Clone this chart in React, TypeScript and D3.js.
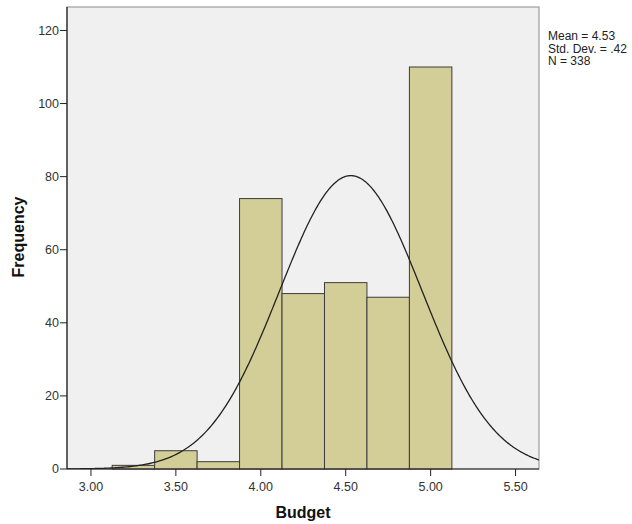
import React from "react";
import * as d3 from "d3";

const binStarts = [3.125, 3.375, 3.625, 3.875, 4.125, 4.375, 4.625, 4.875];
const binWidth = 0.25;
const frequencies = [1, 5, 2, 74, 48, 51, 47, 110];
const xTicks = [3.0, 3.5, 4.0, 4.5, 5.0, 5.5];
const yTicks = [0, 20, 40, 60, 80, 100, 120];
const statMean = 4.53;
const statSd = 0.42;
const statN = 338;
const statLines = ["Mean = 4.53", "Std. Dev. = .42", "N = 338"];

export default function App() {
  const W = 632, H = 524;
  const L = 67, R = 539, T = 7, B = 469;
  const x = d3.scaleLinear().domain([2.859, 5.638]).range([L, R]);
  const y = d3.scaleLinear().domain([0, 110]).range([B, 67]);

  const pdf = (v: number) =>
    (statN * binWidth) / (statSd * Math.sqrt(2 * Math.PI)) *
    Math.exp(-0.5 * ((v - statMean) / statSd) ** 2);
  const curvePts: [number, number][] = d3
    .range(0, 401)
    .map((i) => 2.859 + (i / 400) * (5.638 - 2.859))
    .map((v) => [v, pdf(v)]);
  const line = d3
    .line<[number, number]>()
    .x((d) => x(d[0]))
    .y((d) => y(d[1]))
    .curve(d3.curveLinear);

  const font = "Arial, 'Liberation Sans', sans-serif";

  return (
    <svg
      width={W}
      height={H}
      style={{ position: "absolute", left: 0, top: 0, background: "#fff" }}
      fontFamily={font}
    >
      <defs>
        <clipPath id="plotclip">
          <rect x={L} y={T} width={R - L} height={B - T} />
        </clipPath>
      </defs>
      <rect x={L} y={T} width={R - L} height={B - T} fill="#F0F0F0" stroke="#8a8a8a" strokeWidth={1} />
      {binStarts.map((s, i) => (
        <rect
          key={i}
          x={x(s)}
          y={y(frequencies[i])}
          width={x(s + binWidth) - x(s)}
          height={B - y(frequencies[i])}
          fill="#D3CE97"
          stroke="#3c3c3c"
          strokeWidth={1}
        />
      ))}
      <path d={line(curvePts) || ""} fill="none" stroke="#222" strokeWidth={1.3} clipPath="url(#plotclip)" />
      <line x1={L} x2={L} y1={T} y2={B} stroke="#222" strokeWidth={1.2} />
      <line x1={L} x2={R} y1={B} y2={B} stroke="#222" strokeWidth={1.2} />
      {yTicks.map((t) => (
        <g key={t}>
          <line x1={L - 7} x2={L} y1={y(t)} y2={y(t)} stroke="#222" />
          <text x={L - 8} y={y(t)} dy="0.35em" textAnchor="end" fontSize={12.5} fill="#333">
            {t}
          </text>
        </g>
      ))}
      {xTicks.map((t) => (
        <g key={t}>
          <line x1={x(t)} x2={x(t)} y1={B} y2={B + 7} stroke="#222" />
          <text x={x(t)} y={B + 22} textAnchor="middle" fontSize={12.5} fill="#333">
            {t.toFixed(2)}
          </text>
        </g>
      ))}
      <text x={303} y={518} textAnchor="middle" fontSize={16} fontWeight="bold" fill="#111">
        Budget
      </text>
      <text
        transform={`translate(24,237) rotate(-90)`}
        textAnchor="middle"
        fontSize={16}
        fontWeight="bold"
        fill="#111"
      >
        Frequency
      </text>
      {statLines.map((s, i) => (
        <text key={i} x={548} y={40 + i * 12.5} fontSize={12} fill="#222">
          {s}
        </text>
      ))}
    </svg>
  );
}
